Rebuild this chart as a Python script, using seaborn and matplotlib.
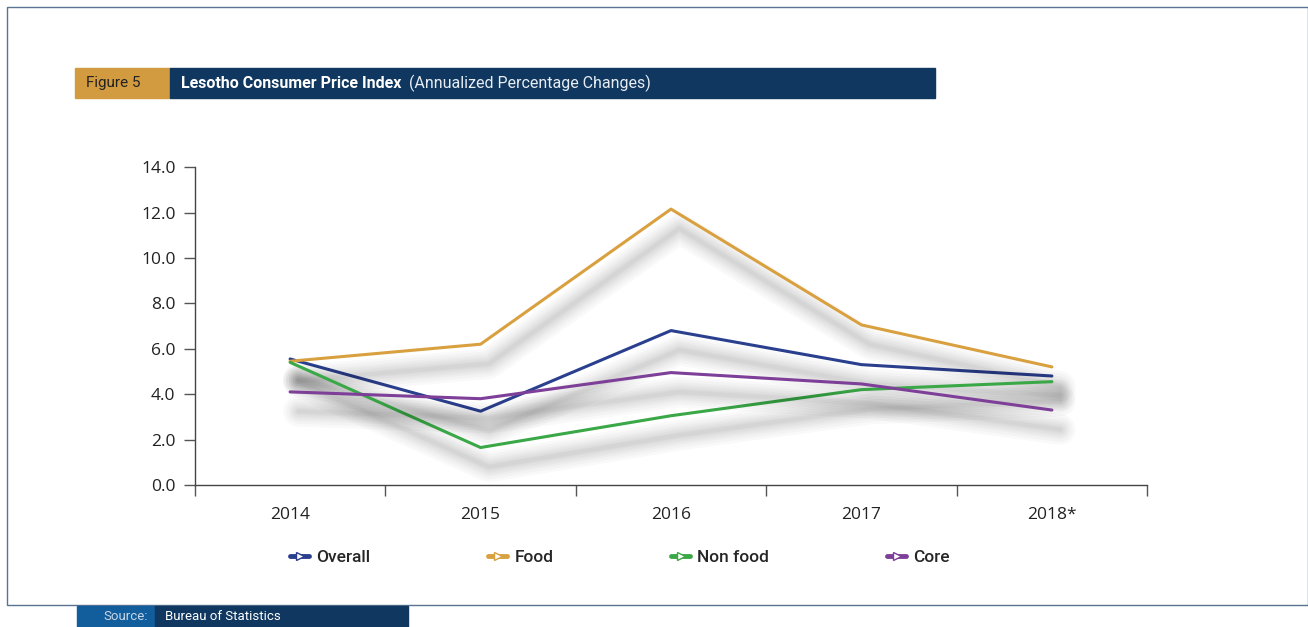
import numpy as np
import pandas as pd
import matplotlib.pyplot as plt
import matplotlib.patheffects as pe
from matplotlib.patches import Rectangle
from matplotlib.lines import Line2D
import seaborn as sns

years = ["2014", "2015", "2016", "2017", "2018*"]
overall = [5.55, 3.25, 6.8, 5.3, 4.8]
food = [5.45, 6.2, 12.15, 7.05, 5.2]
non_food = [5.4, 1.65, 3.05, 4.2, 4.55]
core = [4.1, 3.8, 4.95, 4.45, 3.3]
series_names = ["Overall", "Food", "Non food", "Core"]
y_ticks = [0, 2, 4, 6, 8, 10, 12, 14]

colors = {"Overall": "#2a3f8e", "Food": "#d9a040", "Non food": "#3aa846", "Core": "#7d3f98"}

df = pd.DataFrame({"Year": years, "Overall": overall, "Food": food,
                   "Non food": non_food, "Core": core})
long = df.melt(id_vars="Year", var_name="Series", value_name="Change")
long["pos"] = long["Year"].map({y: i for i, y in enumerate(years)})

sns.set_style("white")
plt.rcParams["font.family"] = ["Open Sans", "DejaVu Sans"]
narrow = ["Roboto", "DejaVu Sans"]

fig = plt.figure(figsize=(13.08, 6.27), dpi=100)
ax = fig.add_axes([0.149, 0.2265, 0.728, 0.507])

sns.lineplot(data=long, x="pos", y="Change", hue="Series", palette=colors,
             hue_order=series_names, linewidth=2.2, legend=False, ax=ax,
             sort=False, estimator=None)

# soft grey drop shadow under each line (stacked translucent strokes)
shadow = [pe.SimpleLineShadow(offset=(6, -14), shadow_color="black", alpha=0.022, linewidth=w)
          for w in (22, 18, 14, 11, 8, 5, 3)]
shadow.append(pe.Normal())
for ln in ax.lines:
    ln.set_path_effects(shadow)

ax.set_xlim(-0.5, len(years) - 0.5)
ax.set_ylim(0, 14)
ax.set_yticks(y_ticks)
ax.set_yticklabels([f"{v:.1f}" for v in y_ticks], fontsize=12.5, color="#222222")
ax.set_xticks(np.arange(len(years) + 1) - 0.5)
ax.set_xticklabels([])
ax.set_xticks(np.arange(len(years)), minor=True)
ax.set_xticklabels(years, minor=True, fontsize=12.5, color="#222222")
ax.tick_params(axis="x", which="minor", bottom=True, length=0, pad=16)
ax.tick_params(axis="x", which="major", bottom=True, direction="out", length=8, width=1,
               color="#555555")
ax.tick_params(axis="y", left=True, direction="out", length=8, width=1, color="#555555", pad=6)
ax.set_xlabel("")
ax.set_ylabel("")
for s in ["top", "right"]:
    ax.spines[s].set_visible(False)
for s in ["left", "bottom"]:
    ax.spines[s].set_color("#444444")
    ax.spines[s].set_linewidth(1)

# legend
handles = [Line2D([0], [0], color=colors[n], lw=3.5, marker=">", markersize=6,
                  markerfacecolor="white", markeredgecolor=colors[n], markevery=[1])
           for n in series_names]
leg = fig.legend(handles, series_names, loc="center", bbox_to_anchor=(0.474, 0.111),
                 ncol=4, frameon=False, handlelength=1.1, handletextpad=0.4,
                 columnspacing=6.8, prop={"family": narrow, "size": 12.5, "weight": "medium"})

# page frame
fig.patches.append(Rectangle((7 / 1308, 1 - 605 / 627), 1301 / 1308, 598 / 627,
                             transform=fig.transFigure, fill=False,
                             edgecolor="#5a7390", linewidth=1))

# header bar
fig.patches.append(Rectangle((75 / 1308, 1 - 98 / 627), 95 / 1308, 30 / 627,
                             transform=fig.transFigure, color="#d39b3f"))
fig.patches.append(Rectangle((170 / 1308, 1 - 98 / 627), 765 / 1308, 30 / 627,
                             transform=fig.transFigure, color="#0f375f"))
fig.text(86 / 1308, 1 - 83 / 627, "Figure 5", fontsize=11, color="#222222", va="center",
         family=narrow)
fig.text(181 / 1308, 1 - 83 / 627, "Lesotho Consumer Price Index", fontsize=11.5,
         color="white", va="center", weight="bold", family=narrow)
fig.text(409 / 1308, 1 - 83 / 627, "(Annualized Percentage Changes)", fontsize=11.5,
         color="#e8edf3", va="center", family=narrow)

# source bar
fig.patches.append(Rectangle((77 / 1308, 0), 78 / 1308, 21 / 627,
                             transform=fig.transFigure, color="#125d9c"))
fig.patches.append(Rectangle((155 / 1308, 0), 253 / 1308, 21 / 627,
                             transform=fig.transFigure, color="#0f375f"))
fig.text(148 / 1308, 10 / 627, "Source:", fontsize=9.5, color="#c9d6e6", va="center",
         ha="right", family=narrow)
fig.text(165 / 1308, 10 / 627, "Bureau of Statistics", fontsize=9.5, color="white",
         va="center", family=narrow)

fig.savefig("out.png", dpi=100)
